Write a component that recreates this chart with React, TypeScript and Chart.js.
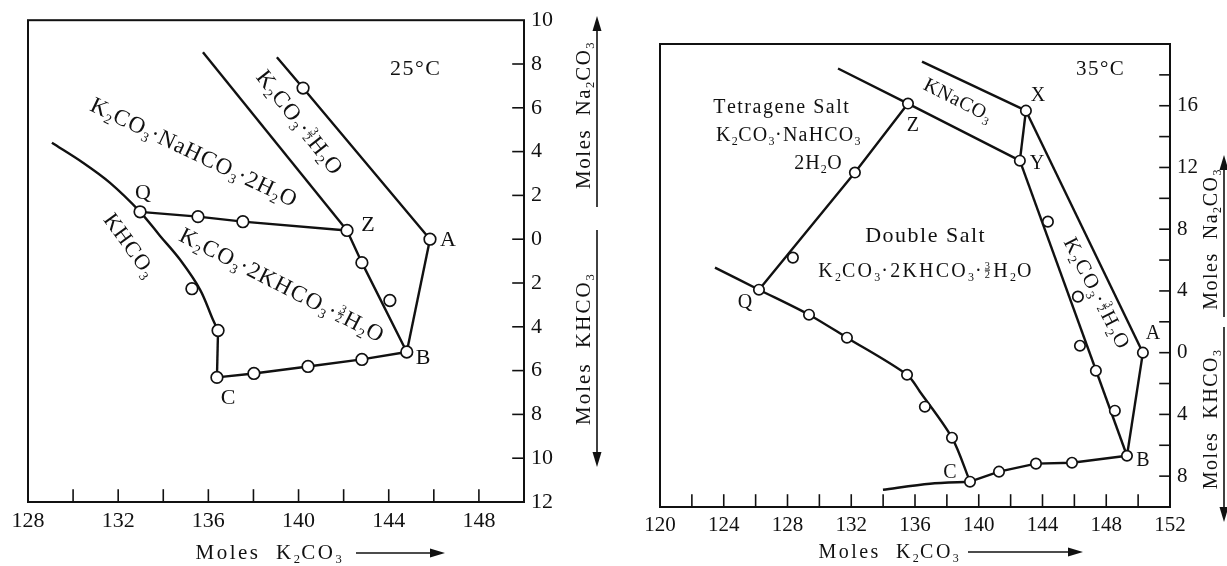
import React, { useEffect, useRef } from 'react';
import { Chart, registerables } from 'chart.js';

Chart.register(...registerables);

type P = { x: number; y: number };

// ---------------- 25 °C panel data ----------------
const t25HydrateOuter: P[] = [{ x: 139.04, y: 8.31 }, { x: 140.2, y: 6.9 }, { x: 145.83, y: 0 }];
const t25AB: P[] = [{ x: 145.83, y: 0 }, { x: 144.8, y: -5.15 }];
const t25HydrateInner: P[] = [{ x: 135.76, y: 8.54 }, { x: 142.15, y: 0.4 }];
const t25ZB: P[] = [{ x: 142.15, y: 0.4 }, { x: 142.81, y: -1.07 }, { x: 144.8, y: -5.15 }];
const t25QZ: P[] = [{ x: 132.97, y: 1.25 }, { x: 135.54, y: 1.03 }, { x: 137.53, y: 0.8 }, { x: 142.15, y: 0.4 }];
const t25KHCO3: P[] = [
  { x: 129.06, y: 4.4 }, { x: 130.44, y: 3.49 }, { x: 131.64, y: 2.57 }, { x: 132.97, y: 1.25 },
  { x: 133.85, y: 0.16 }, { x: 134.74, y: -0.93 }, { x: 135.63, y: -2.3 }, { x: 136.2, y: -3.67 },
  { x: 136.43, y: -4.17 },
];
const t25Vertical: P[] = [{ x: 136.43, y: -4.17 }, { x: 136.38, y: -6.31 }];
const t25CB: P[] = [
  { x: 136.38, y: -6.31 }, { x: 138.02, y: -6.13 }, { x: 140.42, y: -5.81 }, { x: 142.81, y: -5.49 },
  { x: 144.8, y: -5.15 },
];
const t25Points: P[] = [
  { x: 140.2, y: 6.9 }, { x: 145.83, y: 0 }, { x: 142.15, y: 0.4 }, { x: 142.81, y: -1.07 },
  { x: 144.05, y: -2.8 }, { x: 144.8, y: -5.15 }, { x: 132.97, y: 1.25 }, { x: 135.54, y: 1.03 },
  { x: 137.53, y: 0.8 }, { x: 135.27, y: -2.26 }, { x: 136.43, y: -4.17 }, { x: 136.38, y: -6.31 },
  { x: 138.02, y: -6.13 }, { x: 140.42, y: -5.81 }, { x: 142.81, y: -5.49 },
];
const t25XTicks = [128, 130, 132, 134, 136, 138, 140, 142, 144, 146, 148, 150];
const t25XLabels = ['128', '', '132', '', '136', '', '140', '', '144', '', '148', ''];
const t25YTicks = [-12, -10, -8, -6, -4, -2, 0, 2, 4, 6, 8, 10];
const t25YLabels = ['12', '10', '8', '6', '4', '2', '0', '2', '4', '6', '8', '10'];

// ---------------- 35 °C panel data ----------------
const t35TopLine: P[] = [{ x: 131.17, y: 18.41 }, { x: 135.56, y: 16.14 }, { x: 142.58, y: 12.44 }];
const t35KNaUpper: P[] = [{ x: 136.44, y: 18.86 }, { x: 142.96, y: 15.68 }];
const t35XY: P[] = [{ x: 142.96, y: 15.68 }, { x: 142.58, y: 12.44 }];
const t35XA: P[] = [{ x: 142.96, y: 15.68 }, { x: 150.3, y: 0 }];
const t35AB: P[] = [{ x: 150.3, y: 0 }, { x: 149.3, y: -6.68 }];
const t35YB: P[] = [{ x: 142.58, y: 12.44 }, { x: 149.3, y: -6.68 }];
const t35ZQ: P[] = [{ x: 135.56, y: 16.14 }, { x: 132.23, y: 11.67 }, { x: 126.21, y: 4.08 }];
const t35KHCO3: P[] = [
  { x: 123.45, y: 5.51 }, { x: 126.21, y: 4.08 }, { x: 129.35, y: 2.46 }, { x: 131.73, y: 0.97 },
  { x: 135.5, y: -1.43 }, { x: 136.31, y: -2.53 }, { x: 138.32, y: -5.51 }, { x: 139.45, y: -8.36 },
];
const t35CLeft: P[] = [{ x: 133.99, y: -8.88 }, { x: 136.94, y: -8.49 }, { x: 139.45, y: -8.36 }];
const t35CB: P[] = [
  { x: 139.45, y: -8.36 }, { x: 141.27, y: -7.71 }, { x: 143.59, y: -7.19 }, { x: 145.85, y: -7.13 },
  { x: 149.3, y: -6.68 },
];
const t35Points: P[] = [
  { x: 135.56, y: 16.14 }, { x: 142.58, y: 12.44 }, { x: 142.96, y: 15.68 }, { x: 150.3, y: 0 },
  { x: 149.3, y: -6.68 }, { x: 144.34, y: 8.49 }, { x: 146.22, y: 3.63 }, { x: 146.35, y: 0.45 },
  { x: 147.35, y: -1.17 }, { x: 148.54, y: -3.76 }, { x: 132.23, y: 11.67 }, { x: 128.34, y: 6.16 },
  { x: 126.21, y: 4.08 }, { x: 129.35, y: 2.46 }, { x: 131.73, y: 0.97 }, { x: 135.5, y: -1.43 },
  { x: 136.62, y: -3.5 }, { x: 138.32, y: -5.51 }, { x: 139.45, y: -8.36 }, { x: 141.27, y: -7.71 },
  { x: 143.59, y: -7.19 }, { x: 145.85, y: -7.13 },
];
const t35XTicks = [120, 122, 124, 126, 128, 130, 132, 134, 136, 138, 140, 142, 144, 146, 148, 150, 152];
const t35XLabels = ['120', '', '124', '', '128', '', '132', '', '136', '', '140', '', '144', '', '148', '', '152'];
const t35YTicks = [-10, -8, -6, -4, -2, 0, 2, 4, 6, 8, 10, 12, 14, 16, 18, 20];
const t35YLabels = ['', '8', '', '4', '', '0', '', '4', '', '8', '', '12', '', '16', '', ''];

// ---------------- annotations (data coordinates) ----------------
type Note = { text: string; x: number; y: number; angle?: number; size?: number; spacing?: number };
const notes25: Note[] = [
  { text: '25°C', x: 145.16, y: 7.81, size: 22, spacing: 1.5 },
  { text: 'K_2CO_3·{3/2}H_2O', x: 140.06, y: 5.35, angle: 52, size: 23, spacing: 1 },
  { text: 'K_2CO_3·NaHCO_3·2H_2O', x: 135.36, y: 3.99, angle: 25.5, size: 23, spacing: 1 },
  { text: 'Q', x: 133.1, y: 2.16, size: 22 },
  { text: 'Z', x: 143.08, y: 0.71, size: 22 },
  { text: 'A', x: 146.63, y: 0.02, size: 22 },
  { text: 'B', x: 145.52, y: -5.35, size: 22 },
  { text: 'C', x: 136.87, y: -7.18, size: 22 },
  { text: 'KHCO_3', x: 132.52, y: -0.25, angle: 54, size: 22, spacing: 1 },
  { text: 'K_2CO_3·2KHCO_3·{3/2}H_2O', x: 139.26, y: -2.07, angle: 27, size: 23, spacing: 1.2 },
];
const notes35: Note[] = [
  { text: '35°C', x: 147.6, y: 18.47, size: 21, spacing: 1.5 },
  { text: 'Tetragene Salt', x: 127.59, y: 15.94, size: 20, spacing: 1.5 },
  { text: 'K_2CO_3·NaHCO_3', x: 128.03, y: 14.13, size: 20, spacing: 1.2 },
  { text: '2H_2O', x: 129.91, y: 12.31, size: 20, spacing: 1 },
  { text: 'Z', x: 135.87, y: 14.78, size: 20 },
  { text: 'KNaCO_3', x: 138.7, y: 16.4, angle: 27, size: 20, spacing: 0.5 },
  { text: 'X', x: 143.71, y: 16.72, size: 20 },
  { text: 'Y', x: 143.65, y: 12.31, size: 20 },
  { text: 'Double Salt', x: 136.62, y: 7.65, size: 22, spacing: 1.5 },
  { text: 'K_2CO_3·2KHCO_3·{3/2}H_2O', x: 136.62, y: 5.31, size: 20, spacing: 2.2 },
  { text: 'K_2CO_3·{3/2}H_2O', x: 147.42, y: 3.89, angle: 63, size: 21, spacing: 1.8 },
  { text: 'Q', x: 125.33, y: 3.31, size: 20 },
  { text: 'A', x: 150.93, y: 1.3, size: 20 },
  { text: 'B', x: 150.3, y: -6.93, size: 20 },
  { text: 'C', x: 138.19, y: -7.71, size: 20 },
];

const FONT = "'Liberation Serif', 'DejaVu Serif', serif";
const INK = '#111111';

type Seg = { t: string; k: 'n' | 'sub' | 'sup' | 'frac' };
function parseRich(s: string): Seg[] {
  const out: Seg[] = [];
  for (let i = 0; i < s.length; i++) {
    const c = s[i];
    if (c === '_' && i + 1 < s.length) out.push({ t: s[++i], k: 'sub' });
    else if (c === '^' && i + 1 < s.length) out.push({ t: s[++i], k: 'sup' });
    else if (c === '{') {
      const j = s.indexOf('}', i);
      out.push({ t: s.slice(i + 1, j), k: 'frac' });
      i = j;
    } else out.push({ t: c, k: 'n' });
  }
  return out;
}

function drawRich(
  ctx: CanvasRenderingContext2D,
  text: string,
  x: number,
  y: number,
  size: number,
  angle = 0,
  spacing = 0,
  align: 'center' | 'left' | 'right' = 'center',
) {
  const segs = parseRich(text);
  const small = size * 0.6;
  const f = (s: number) => `${s}px ${FONT}`;
  const widths = segs.map((sg) => {
    if (sg.k === 'n') {
      ctx.font = f(size);
      return ctx.measureText(sg.t).width + spacing;
    }
    if (sg.k === 'frac') {
      ctx.font = f(size * 0.52);
      const [a, b] = sg.t.split('/');
      return Math.max(ctx.measureText(a).width, ctx.measureText(b).width) + 2 + spacing;
    }
    ctx.font = f(small);
    return ctx.measureText(sg.t).width + spacing * 0.5;
  });
  const total = widths.reduce((a, b) => a + b, 0) - spacing;
  ctx.save();
  ctx.translate(x, y);
  ctx.rotate((angle * Math.PI) / 180);
  ctx.fillStyle = INK;
  ctx.strokeStyle = INK;
  ctx.textBaseline = 'alphabetic';
  ctx.textAlign = 'left';
  let cx = align === 'center' ? -total / 2 : align === 'right' ? -total : 0;
  const base = size * 0.33;
  segs.forEach((sg, i) => {
    if (sg.k === 'n') {
      ctx.font = f(size);
      ctx.fillText(sg.t, cx, base);
    } else if (sg.k === 'sub') {
      ctx.font = f(small);
      ctx.fillText(sg.t, cx, base + size * 0.2);
    } else if (sg.k === 'sup') {
      ctx.font = f(small);
      ctx.fillText(sg.t, cx, base - size * 0.4);
    } else {
      const fs = size * 0.52;
      ctx.font = f(fs);
      const [a, b] = sg.t.split('/');
      const w = widths[i] - spacing;
      const aw = ctx.measureText(a).width;
      const bw = ctx.measureText(b).width;
      ctx.fillText(a, cx + (w - aw) / 2, base - size * 0.42);
      ctx.fillText(b, cx + (w - bw) / 2, base + size * 0.02);
      ctx.lineWidth = 1;
      ctx.beginPath();
      ctx.moveTo(cx + 1, base - size * 0.36);
      ctx.lineTo(cx + w - 1, base - size * 0.36);
      ctx.stroke();
    }
    cx += widths[i];
  });
  ctx.restore();
}

function arrow(ctx: CanvasRenderingContext2D, x1: number, y1: number, x2: number, y2: number) {
  const a = Math.atan2(y2 - y1, x2 - x1);
  const len = 15;
  const hw = 4.5;
  ctx.save();
  ctx.strokeStyle = INK;
  ctx.fillStyle = INK;
  ctx.lineWidth = 1.6;
  ctx.beginPath();
  ctx.moveTo(x1, y1);
  ctx.lineTo(x2 - Math.cos(a) * len * 0.8, y2 - Math.sin(a) * len * 0.8);
  ctx.stroke();
  ctx.beginPath();
  ctx.moveTo(x2, y2);
  ctx.lineTo(x2 - Math.cos(a) * len - Math.sin(a) * hw, y2 - Math.sin(a) * len + Math.cos(a) * hw);
  ctx.lineTo(x2 - Math.cos(a) * len + Math.sin(a) * hw, y2 - Math.sin(a) * len - Math.cos(a) * hw);
  ctx.closePath();
  ctx.fill();
  ctx.restore();
}

type Titles = (ctx: CanvasRenderingContext2D, area: { left: number; right: number; top: number; bottom: number }) => void;

type PanelSpec = {
  width: number;
  height: number;
  xMin: number;
  xMax: number;
  yMin: number;
  yMax: number;
  xTicks: number[];
  xLabels: string[];
  yTicks: number[];
  yLabels: string[];
  lines: { data: P[]; tension: number }[];
  points: P[];
  notes: Note[];
  padLeft: number;
  padTop: number;
  yAxisWidth: number;
  xAxisHeight: number;
  tickFont: number;
  xTickLen: number;
  yTickLen: number;
  pointRadius: number;
  titles: Titles;
};

function Panel({ spec }: { spec: PanelSpec }) {
  const ref = useRef<HTMLCanvasElement | null>(null);
  useEffect(() => {
    if (!ref.current) return;
    const s = spec;
    const decor = {
      id: 'decor',
      afterDatasetsDraw(chart: any) {
        const ctx: CanvasRenderingContext2D = chart.ctx;
        const a = chart.chartArea;
        const xs = chart.scales.x;
        const ys = chart.scales.y;
        ctx.save();
        ctx.strokeStyle = INK;
        ctx.lineWidth = 2;
        ctx.lineCap = 'square';
        ctx.strokeRect(a.left, a.top, a.right - a.left, a.bottom - a.top);
        ctx.lineWidth = 1.6;
        s.xTicks.forEach((v) => {
          if (v <= s.xMin || v >= s.xMax) return;
          const px = xs.getPixelForValue(v);
          ctx.beginPath();
          ctx.moveTo(px, a.bottom);
          ctx.lineTo(px, a.bottom - s.xTickLen);
          ctx.stroke();
        });
        s.yTicks.forEach((v) => {
          if (v <= s.yMin || v >= s.yMax) return;
          const py = ys.getPixelForValue(v);
          ctx.beginPath();
          ctx.moveTo(a.right, py);
          ctx.lineTo(a.right - s.yTickLen, py);
          ctx.stroke();
        });
        ctx.restore();
        s.notes.forEach((n) => {
          drawRich(ctx, n.text, xs.getPixelForValue(n.x), ys.getPixelForValue(n.y), n.size ?? 20, n.angle ?? 0, n.spacing ?? 0);
        });
        s.titles(ctx, a);
      },
    };
    const datasets: any[] = s.lines.map((l) => ({
      data: l.data,
      showLine: true,
      tension: l.tension,
      borderColor: INK,
      borderWidth: 2.4,
      pointRadius: 0,
      order: 2,
    }));
    datasets.push({
      data: s.points,
      showLine: false,
      pointRadius: s.pointRadius,
      pointBackgroundColor: '#ffffff',
      pointBorderColor: INK,
      pointBorderWidth: 1.7,
      order: 1,
    });
    const chart = new Chart(ref.current, {
      type: 'scatter',
      data: { datasets },
      options: {
        responsive: false,
        animation: false,
        layout: { padding: { left: s.padLeft, top: s.padTop, right: 0, bottom: 0 } },
        plugins: { legend: { display: false }, tooltip: { enabled: false }, title: { display: false } },
        scales: {
          x: {
            type: 'linear',
            position: 'bottom',
            min: s.xMin,
            max: s.xMax,
            grid: { display: false, drawTicks: false },
            border: { display: false },
            afterBuildTicks: (sc: any) => {
              sc.ticks = s.xTicks.map((v) => ({ value: v }));
            },
            afterFit: (sc: any) => {
              sc.height = s.xAxisHeight;
            },
            ticks: {
              autoSkip: false,
              maxRotation: 0,
              padding: 6,
              color: INK,
              font: { family: FONT, size: s.tickFont },
              callback: (v: any) => s.xLabels[s.xTicks.indexOf(Number(v))] ?? '',
            },
          },
          y: {
            type: 'linear',
            position: 'right',
            min: s.yMin,
            max: s.yMax,
            grid: { display: false, drawTicks: false },
            border: { display: false },
            afterBuildTicks: (sc: any) => {
              sc.ticks = s.yTicks.map((v) => ({ value: v }));
            },
            afterFit: (sc: any) => {
              sc.width = s.yAxisWidth;
            },
            ticks: {
              autoSkip: false,
              padding: 7,
              color: INK,
              font: { family: FONT, size: s.tickFont },
              callback: (v: any) => s.yLabels[s.yTicks.indexOf(Number(v))] ?? '',
            },
          },
        },
      } as any,
      plugins: [decor],
    });
    return () => chart.destroy();
  }, [spec]);
  return <canvas ref={ref} width={spec.width} height={spec.height} style={{ display: 'block' }} />;
}

const leftSpec: PanelSpec = {
  width: 613,
  height: 566,
  xMin: 128,
  xMax: 150,
  yMin: -12,
  yMax: 10,
  xTicks: t25XTicks,
  xLabels: t25XLabels,
  yTicks: t25YTicks,
  yLabels: t25YLabels,
  lines: [
    { data: t25HydrateOuter, tension: 0 },
    { data: t25AB, tension: 0 },
    { data: t25HydrateInner, tension: 0 },
    { data: t25ZB, tension: 0 },
    { data: t25QZ, tension: 0 },
    { data: t25KHCO3, tension: 0.35 },
    { data: t25Vertical, tension: 0 },
    { data: t25CB, tension: 0 },
  ],
  points: t25Points,
  notes: notes25,
  padLeft: 28,
  padTop: 20,
  yAxisWidth: 89,
  xAxisHeight: 64,
  tickFont: 22,
  xTickLen: 12,
  yTickLen: 11,
  pointRadius: 5.8,
  titles: (ctx, a) => {
    drawRich(ctx, 'Moles  K_2CO_3', 268, 552, 21, 0, 2.5);
    arrow(ctx, 356, 553, 445, 553);
    drawRich(ctx, 'Moles  Na_2CO_3', a.right + 59, 116, 21, -90, 1.5);
    arrow(ctx, a.right + 73, 207, a.right + 73, 16);
    drawRich(ctx, 'Moles  KHCO_3', a.right + 59, 350, 21, -90, 2);
    arrow(ctx, a.right + 73, 230, a.right + 73, 467);
  },
};

const rightSpec: PanelSpec = {
  width: 614,
  height: 566,
  xMin: 120,
  xMax: 152,
  yMin: -10,
  yMax: 20,
  xTicks: t35XTicks,
  xLabels: t35XLabels,
  yTicks: t35YTicks,
  yLabels: t35YLabels,
  lines: [
    { data: t35TopLine, tension: 0 },
    { data: t35KNaUpper, tension: 0 },
    { data: t35XY, tension: 0 },
    { data: t35XA, tension: 0 },
    { data: t35AB, tension: 0 },
    { data: t35YB, tension: 0 },
    { data: t35ZQ, tension: 0 },
    { data: t35KHCO3, tension: 0.3 },
    { data: t35CLeft, tension: 0.3 },
    { data: t35CB, tension: 0 },
  ],
  points: t35Points,
  notes: notes35,
  padLeft: 47,
  padTop: 44,
  yAxisWidth: 57,
  xAxisHeight: 59,
  tickFont: 21,
  xTickLen: 12,
  yTickLen: 10,
  pointRadius: 5.2,
  titles: (ctx, a) => {
    drawRich(ctx, 'Moles  K_2CO_3', 275, 551, 20, 0, 2.5);
    arrow(ctx, 355, 552, 470, 552);
    drawRich(ctx, 'Moles  Na_2CO_3', a.right + 40, 240, 20, -90, 1.5);
    arrow(ctx, a.right + 54, 317, a.right + 54, 155);
    drawRich(ctx, 'Moles  KHCO_3', a.right + 40, 420, 20, -90, 1.5);
    arrow(ctx, a.right + 54, 327, a.right + 54, 522);
  },
};

export default function App() {
  return (
    <div
      style={{
        position: 'fixed',
        left: 0,
        top: 0,
        width: 1227,
        height: 566,
        display: 'flex',
        background: '#ffffff',
      }}
    >
      <Panel spec={leftSpec} />
      <Panel spec={rightSpec} />
    </div>
  );
}
